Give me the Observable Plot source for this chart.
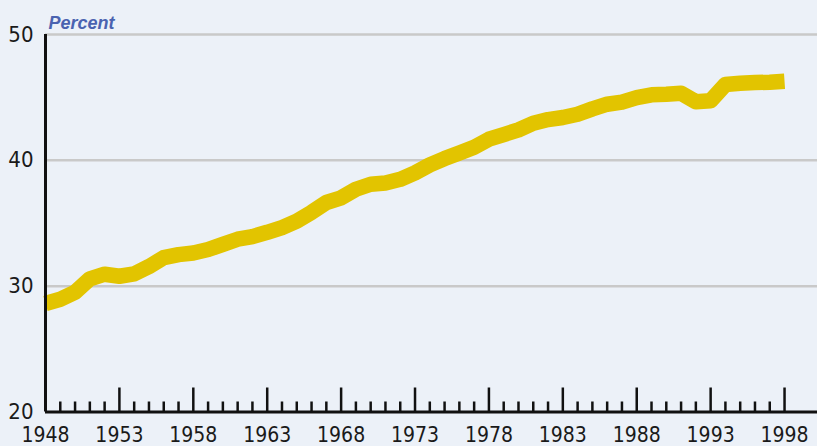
<!DOCTYPE html>
<html>
<head>
<meta charset="utf-8">
<script src="https://cdn.jsdelivr.net/npm/d3@7"></script>
<script src="https://cdn.jsdelivr.net/npm/@observablehq/plot@0.6"></script>
<style>
  html, body { margin: 0; padding: 0; background: #ecf1f8; }
  #chart svg { display: block; }
</style>
</head>
<body>
<div id="chart"></div>
<script>
const years = [1948,1949,1950,1951,1952,1953,1954,1955,1956,1957,1958,1959,1960,1961,1962,1963,1964,1965,1966,1967,1968,1969,1970,1971,1972,1973,1974,1975,1976,1977,1978,1979,1980,1981,1982,1983,1984,1985,1986,1987,1988,1989,1990,1991,1992,1993,1994,1995,1996,1997,1998];
const percent = [28.62,28.96,29.52,30.58,30.95,30.79,30.98,31.56,32.27,32.51,32.64,32.91,33.32,33.73,33.94,34.28,34.66,35.16,35.87,36.65,37.02,37.70,38.10,38.20,38.49,39.00,39.64,40.14,40.59,41.04,41.68,42.05,42.42,42.95,43.24,43.40,43.66,44.09,44.46,44.63,44.99,45.21,45.25,45.33,44.65,44.73,46.03,46.13,46.18,46.21,46.29];
const majorYears = [1948,1953,1958,1963,1968,1973,1978,1983,1988,1993,1998];
const yTicks = [20,30,40,50];
const gridValues = [30,40,50];
const unitLabel = "Percent";

const data = years.map((year, i) => ({year, value: percent[i]}));
const minorYears = years.filter(y => !majorYears.includes(y));
const font = "'Liberation Sans Narrow', 'Arial Narrow', 'DejaVu Sans Condensed', sans-serif";

const chart = Plot.plot({
  width: 817,
  height: 446,
  marginLeft: 45,
  marginRight: 0,
  marginTop: 34,
  marginBottom: 34.5,
  x: {domain: [1948, 2000.23], axis: null},
  y: {domain: [20, 50], axis: null},
  style: {background: "#ecf1f8", fontFamily: font, overflow: "visible"},
  marks: [
    Plot.ruleY(gridValues, {stroke: "#c9c9c9", strokeWidth: 2.5}),
    Plot.line(data, {x: "year", y: "value", stroke: "#e2c400", strokeWidth: 15.5, strokeLinejoin: "round", strokeLinecap: "butt"}),
    Plot.ruleY([20], {stroke: "#111", strokeWidth: 3}),
    Plot.axisX(majorYears.slice(1), {tickSize: -24, strokeWidth: 2.5, stroke: "#111", text: null, label: null}),
    Plot.axisX(minorYears, {tickSize: -10, strokeWidth: 2.5, stroke: "#111", text: null, label: null}),
    Plot.ruleX([1948], {y1: 20, y2: 50, stroke: "#111", strokeWidth: 3}),
    Plot.text(majorYears, {x: d => d, y: 20, text: d => String(d), dy: 23, fontSize: 21, fill: "#1a1a1a", fontFamily: font}),
    Plot.text(yTicks, {x: 1948, y: d => d, text: d => String(d), textAnchor: "end", dx: -12, fontSize: 22, fill: "#1a1a1a", fontFamily: font}),
    Plot.text([unitLabel], {frameAnchor: "top-left", text: d => d, textAnchor: "start", dx: 3, dy: -18, fontSize: 18, fontWeight: "bold", fontStyle: "italic", fill: "#4a63b0", fontFamily: "'Liberation Sans', Arial, sans-serif"})
  ]
});
document.getElementById("chart").append(chart);
</script>
</body>
</html>
